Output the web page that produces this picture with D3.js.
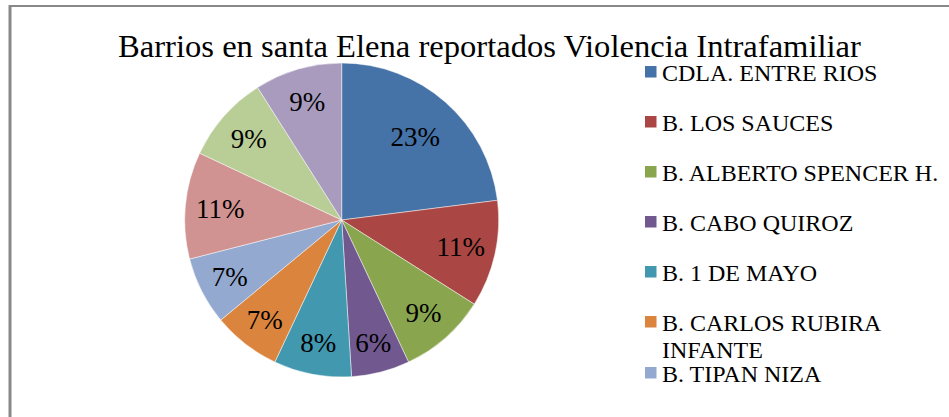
<!DOCTYPE html>
<html>
<head>
<meta charset="utf-8">
<script src="https://cdn.jsdelivr.net/npm/d3@7"></script>
<style>
  html, body { margin: 0; padding: 0; background: #fff; overflow: hidden; }
  svg { display: block; }
  text { font-family: "Liberation Serif", "Times New Roman", "DejaVu Serif", serif; fill: #000; }
</style>
</head>
<body>
<svg id="chart" width="949" height="417"></svg>
<script>
// Title
const title = "Barrios en santa Elena reportados Violencia Intrafamiliar";

// Categories (only the first seven legend entries are visible; the rest are cut off)
const categories = [
  "CDLA. ENTRE RIOS",
  "B. LOS SAUCES",
  "B. ALBERTO SPENCER H.",
  "B. CABO QUIROZ",
  "B. 1 DE MAYO",
  "B. CARLOS RUBIRA INFANTE",
  "B. TIPAN NIZA",
  null,
  null,
  null
];

// Percent values shown on slices
const values = [23, 11, 9, 6, 8, 7, 7, 11, 9, 9];

const colors = [
  "#4572A7", "#AA4643", "#89A54E", "#71588F", "#4198AF",
  "#DB843D", "#93A9CF", "#D19392", "#B9CD96", "#A99BBD"
];

const FONT = "'Liberation Serif', 'Times New Roman', serif";
const svg = d3.select("#chart");

// Chart border (top and left visible)
svg.append("line").attr("x1", 10).attr("y1", 6).attr("x2", 949).attr("y2", 6)
  .attr("stroke", "#888").attr("stroke-width", 2);
svg.append("line").attr("x1", 10).attr("y1", 5).attr("x2", 10).attr("y2", 417)
  .attr("stroke", "#888").attr("stroke-width", 3);

// Title
svg.append("text")
  .attr("x", 489.5).attr("y", 57)
  .attr("text-anchor", "middle")
  .attr("font-family", FONT)
  .attr("font-size", 32.6)
  .text(title);

// Pie
const cx = 341.7, cy = 220, R = 157;
const total = d3.sum(values);
const pie = d3.pie().sort(null).value(d => d);
const arcs = pie(values);
const arc = d3.arc().innerRadius(0).outerRadius(R);
const color = d3.scaleOrdinal().domain(d3.range(values.length)).range(colors);

const g = svg.append("g").attr("transform", `translate(${cx},${cy})`);
g.selectAll("path.slice")
  .data(arcs)
  .enter().append("path")
  .attr("class", "slice")
  .attr("d", arc)
  .attr("fill", (d, i) => color(i))
  .attr("stroke", "#fff")
  .attr("stroke-opacity", 0.6)
  .attr("stroke-width", 0.8);

g.selectAll("text.lbl")
  .data(arcs)
  .enter().append("text")
  .attr("class", "lbl")
  .attr("transform", d => {
    const frac = d.value / total;
    const r = R * (0.84 - 0.57 * frac);
    const a = (d.startAngle + d.endAngle) / 2;
    return `translate(${r * Math.sin(a)},${-r * Math.cos(a)})`;
  })
  .attr("text-anchor", "middle")
  .attr("dy", "0.35em")
  .attr("font-family", FONT)
  .attr("font-size", 27)
  .text(d => Math.round(d.value / total * 100) + "%");

// Legend
const legendX = 645, sq = 11.5;
const legendRows = [
  { i: 0, lines: ["CDLA. ENTRE RIOS"], y: 81 },
  { i: 1, lines: ["B. LOS SAUCES"], y: 131 },
  { i: 2, lines: ["B. ALBERTO SPENCER H."], y: 181 },
  { i: 3, lines: ["B. CABO QUIROZ"], y: 231 },
  { i: 4, lines: ["B. 1 DE MAYO"], y: 281 },
  { i: 5, lines: ["B. CARLOS RUBIRA", "INFANTE"], y: 331 },
  { i: 6, lines: ["B. TIPAN NIZA"], y: 382 }
];
const lg = svg.append("g");
legendRows.forEach(row => {
  lg.append("rect")
    .attr("x", legendX).attr("y", row.y - 15)
    .attr("width", sq).attr("height", sq)
    .attr("fill", color(row.i));
  const t = lg.append("text")
    .attr("x", legendX + 17).attr("y", row.y)
    .attr("font-family", FONT)
    .attr("font-size", 24);
  row.lines.forEach((ln, k) => {
    t.append("tspan").attr("x", legendX + 17).attr("dy", k === 0 ? 0 : 27).text(ln);
  });
});
</script>
</body>
</html>
